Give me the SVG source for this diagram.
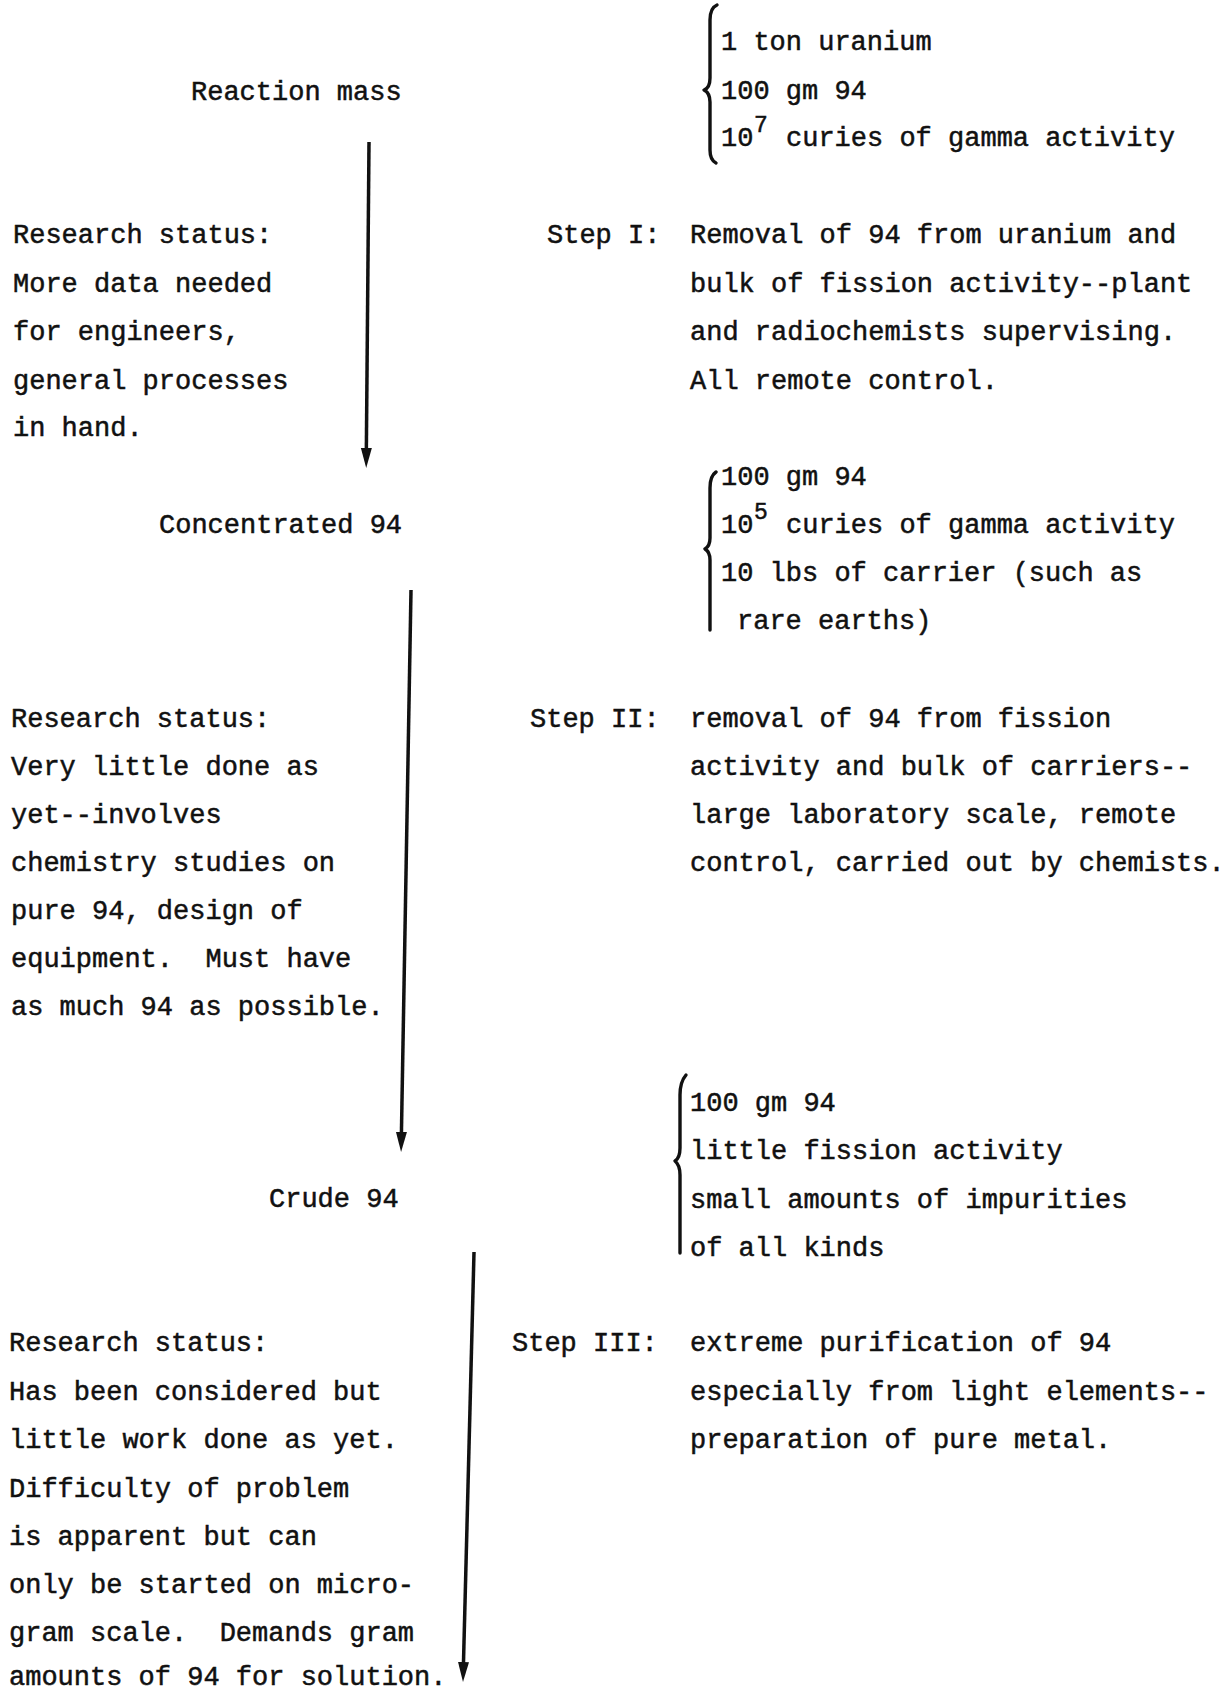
<svg xmlns="http://www.w3.org/2000/svg" width="1230" height="1692" viewBox="0 0 1230 1692">
<style>
text { font-family: "Liberation Mono", "Courier New", monospace; font-size: 27px; fill: #111; stroke: #111; stroke-width: 0.5; }
.sup { font-size: 23px; }
.brace { fill: none; stroke: #111; stroke-width: 3.4; stroke-linecap: round; stroke-linejoin: round; }
.conn { stroke: #111; stroke-width: 3.5; fill: none; marker-end: url(#ah); }
</style>
<defs>
<marker id="ah" markerUnits="userSpaceOnUse" markerWidth="22" markerHeight="12" refX="8" refY="6" orient="auto">
<path d="M0,0.5 L20,6 L0,11.5 Z" fill="#111"/>
</marker>
</defs>
<rect width="1230" height="1692" fill="#fff"/>

<g id="connectors">
<line class="conn" x1="369" y1="142" x2="366.3" y2="456"/>
<line class="conn" x1="411" y1="590" x2="401.3" y2="1140"/>
<line class="conn" x1="474" y1="1252" x2="463.3" y2="1670"/>
</g>

<g id="node-reaction-mass">
<text x="191" y="100">Reaction mass</text>
</g>

<g id="node-mass1-contents">
<path class="brace" d="M717,5 Q710,8 710,20 L710,78 Q710,88 704,90 Q710,93 710,102 L710,150 Q710,160 716,163"/>
<text x="721" y="50">1 ton uranium</text>
<text x="721" y="98.5">100 gm 94</text>
<text y="146"><tspan x="721">10</tspan><tspan class="sup" x="754" dy="-14">7</tspan><tspan x="786" dy="14">curies of gamma activity</tspan></text>
</g>

<g id="node-status1">
<text x="13" y="243">Research status:</text>
<text x="13" y="291.5">More data needed</text>
<text x="13" y="340">for engineers,</text>
<text x="13" y="388.5">general processes</text>
<text x="13" y="436">in hand.</text>
</g>

<g id="node-step1">
<text x="547" y="243">Step I:</text>
<text x="690" y="243">Removal of 94 from uranium and</text>
<text x="690" y="291.5">bulk of fission activity--plant</text>
<text x="690" y="340">and radiochemists supervising.</text>
<text x="690" y="388.5">All remote control.</text>
</g>

<g id="node-concentrated">
<text x="159" y="533">Concentrated 94</text>
</g>

<g id="node-mass2-contents">
<path class="brace" d="M716,472 Q710,476 710,488 L710,538 Q710,546 705,549 Q710,552 710,560 L710,630"/>
<text x="721" y="485">100 gm 94</text>
<text y="533"><tspan x="721">10</tspan><tspan class="sup" x="754" dy="-14">5</tspan><tspan x="786" dy="14">curies of gamma activity</tspan></text>
<text x="721" y="581">10 lbs of carrier (such as</text>
<text x="737" y="629">rare earths)</text>
</g>

<g id="node-status2">
<text x="11" y="726.5">Research status:</text>
<text x="11" y="774.5">Very little done as</text>
<text x="11" y="822.5">yet--involves</text>
<text x="11" y="870.5">chemistry studies on</text>
<text x="11" y="918.5">pure 94, design of</text>
<text x="11" y="966.5" xml:space="preserve">equipment.  Must have</text>
<text x="11" y="1014.5">as much 94 as possible.</text>
</g>

<g id="node-step2">
<text x="530" y="726.5">Step II:</text>
<text x="690" y="726.5">removal of 94 from fission</text>
<text x="690" y="774.5">activity and bulk of carriers--</text>
<text x="690" y="822.5">large laboratory scale, remote</text>
<text x="690" y="870.5">control, carried out by chemists.</text>
</g>

<g id="node-crude">
<text x="269" y="1206.5">Crude 94</text>
</g>

<g id="node-mass3-contents">
<path class="brace" d="M686,1075 Q680,1082 680,1095 L680,1148 Q680,1158 675,1161 Q680,1165 680,1175 L680,1253"/>
<text x="690" y="1110.5">100 gm 94</text>
<text x="690" y="1159">little fission activity</text>
<text x="690" y="1207.5">small amounts of impurities</text>
<text x="690" y="1255.5">of all kinds</text>
</g>

<g id="node-status3">
<text x="9" y="1351">Research status:</text>
<text x="9" y="1399.5">Has been considered but</text>
<text x="9" y="1448">little work done as yet.</text>
<text x="9" y="1496.5">Difficulty of problem</text>
<text x="9" y="1544.5">is apparent but can</text>
<text x="9" y="1593">only be started on micro-</text>
<text x="9" y="1641" xml:space="preserve">gram scale.  Demands gram</text>
<text x="9" y="1685">amounts of 94 for solution.</text>
</g>

<g id="node-step3">
<text x="512" y="1351">Step III:</text>
<text x="690" y="1351">extreme purification of 94</text>
<text x="690" y="1399.5">especially from light elements--</text>
<text x="690" y="1448">preparation of pure metal.</text>
</g>
</svg>
